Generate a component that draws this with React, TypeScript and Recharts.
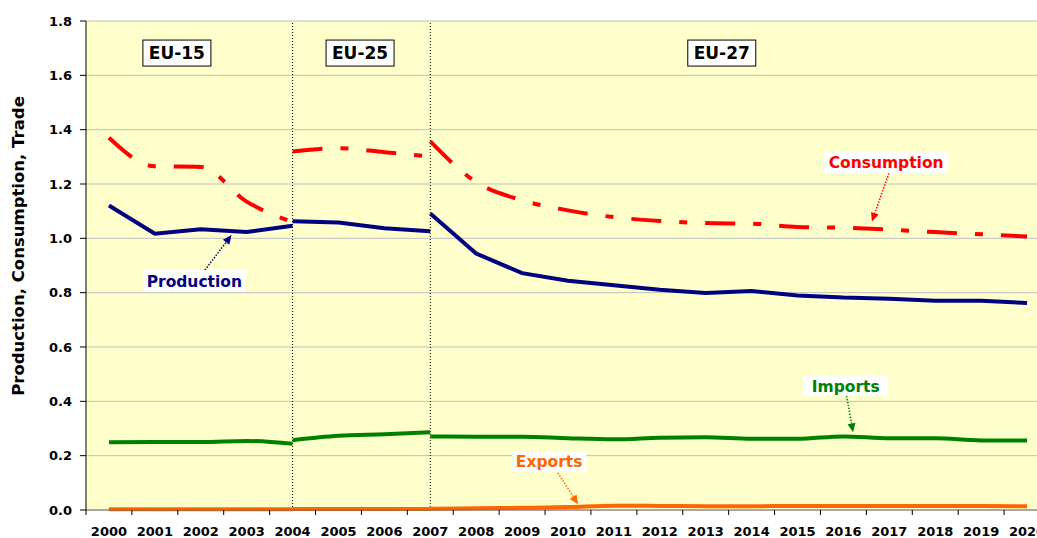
import { LineChart, Line, XAxis, YAxis, CartesianGrid, ReferenceLine, ReferenceDot } from "recharts";

// years covered by each membership period
const yearsEU15 = [2000, 2001, 2002, 2003, 2004];
const yearsEU25 = [2004, 2005, 2006, 2007];
const yearsEU27 = [2007, 2008, 2009, 2010, 2011, 2012, 2013, 2014, 2015, 2016, 2017, 2018, 2019, 2020];

const tickYears = [
  2000, 2001, 2002, 2003, 2004, 2005, 2006, 2007, 2008, 2009, 2010,
  2011, 2012, 2013, 2014, 2015, 2016, 2017, 2018, 2019, 2020,
];
const yTicks = [0, 0.2, 0.4, 0.6, 0.8, 1.0, 1.2, 1.4, 1.6, 1.8];

const productionEU15 = [1.121, 1.017, 1.033, 1.023, 1.046];
const productionEU25 = [1.063, 1.058, 1.037, 1.026];
const productionEU27 = [1.091, 0.944, 0.872, 0.844, 0.827, 0.811, 0.799, 0.806, 0.79, 0.782, 0.778, 0.77, 0.77, 0.762];

const consumptionEU15 = [1.37, 1.265, 1.263, 1.135, 1.06];
const consumptionEU25 = [1.32, 1.332, 1.317, 1.301];
const consumptionEU27 = [1.357, 1.207, 1.14, 1.103, 1.078, 1.064, 1.056, 1.054, 1.042, 1.039, 1.032, 1.023, 1.015, 1.007];

const importsEU15 = [0.249, 0.25, 0.25, 0.254, 0.244];
const importsEU25 = [0.257, 0.273, 0.279, 0.286];
const importsEU27 = [0.271, 0.27, 0.27, 0.264, 0.26, 0.266, 0.268, 0.262, 0.262, 0.271, 0.264, 0.264, 0.256, 0.256];

const exportsEU15 = [0.003, 0.003, 0.003, 0.003, 0.003];
const exportsEU25 = [0.004, 0.004, 0.004, 0.004];
const exportsEU27 = [0.005, 0.006, 0.008, 0.011, 0.016, 0.015, 0.014, 0.014, 0.015, 0.015, 0.015, 0.015, 0.015, 0.014];

const FONT = "DejaVu Sans";
const PLOT_WIDTH = 964;
const HALF_BAND = PLOT_WIDTH / tickYears.length / 2;

function toPoints(years: number[], values: number[]) {
  return years.map((year, i) => ({ year, value: values[i] }));
}

const series = [
  { name: "production", color: "#000080", dash: undefined, type: "linear", parts: [[yearsEU15, productionEU15], [yearsEU25, productionEU25], [yearsEU27, productionEU27]] },
  { name: "consumption", color: "#FF0000", dash: "30 18 8 18", type: "monotone", parts: [[yearsEU15, consumptionEU15], [yearsEU25, consumptionEU25], [yearsEU27, consumptionEU27]] },
  { name: "imports", color: "#008000", dash: undefined, type: "monotone", parts: [[yearsEU15, importsEU15], [yearsEU25, importsEU25], [yearsEU27, importsEU27]] },
  { name: "exports", color: "#FF6600", dash: undefined, type: "monotone", parts: [[yearsEU15, exportsEU15], [yearsEU25, exportsEU25], [yearsEU27, exportsEU27]] },
];

function YearTick(props: any) {
  const { x, y, payload } = props;
  return (
    <g>
      <line x1={x - HALF_BAND} x2={x - HALF_BAND} y1={y} y2={y + 5} stroke="#000" />
      <text x={x} y={y + 26} textAnchor="middle" fontFamily={FONT} fontWeight="bold" fontSize={13} fill="#000">
        {payload.value}
      </text>
    </g>
  );
}

function boxLabel(text: string, w: number, h: number, color: string, size: number, border: boolean) {
  return (p: any) => (
    <g>
      <rect x={p.cx - w / 2} y={p.cy - h / 2} width={w} height={h} fill="#fff" stroke={border ? "#000" : "none"} />
      <text x={p.cx} y={p.cy} dy="0.36em" textAnchor="middle" fontFamily={FONT} fontWeight="bold" fontSize={size} fill={color}>
        {text}
      </text>
    </g>
  );
}

function arrow(color: string) {
  return (p: any) => {
    const { x1, y1, x2, y2 } = p;
    const a = Math.atan2(y2 - y1, x2 - x1);
    const len = 9;
    const half = 4;
    const bx = x2 - len * Math.cos(a);
    const by = y2 - len * Math.sin(a);
    const nx = -Math.sin(a) * half;
    const ny = Math.cos(a) * half;
    return (
      <g>
        <line x1={x1} y1={y1} x2={bx} y2={by} stroke={color} strokeWidth={1.5} strokeDasharray="1.5 1.5" />
        <polygon points={`${x2},${y2} ${bx + nx},${by + ny} ${bx - nx},${by - ny}`} fill={color} />
      </g>
    );
  };
}

const periods = [
  { text: "EU-15", x: 2001.48 },
  { text: "EU-25", x: 2005.47 },
  { text: "EU-27", x: 2013.35 },
];

const callouts = [
  { text: "Consumption", color: "#FF0000", x: 2016.93, y: 1.279, w: 124, h: 21, from: [2016.99, 1.24], to: [2016.62, 1.061] },
  { text: "Production", color: "#000080", x: 2001.86, y: 0.843, w: 103, h: 22, from: [2002.09, 0.883], to: [2002.67, 1.012] },
  { text: "Imports", color: "#008000", x: 2016.05, y: 0.456, w: 85, h: 20, from: [2016.07, 0.42], to: [2016.21, 0.286] },
  { text: "Exports", color: "#FF6600", x: 2009.59, y: 0.177, w: 74, h: 20, from: [2009.78, 0.137], to: [2010.22, 0.021] },
];

export default function App() {
  return (
    <div style={{ position: "absolute", left: 0, top: 0, width: 1037, height: 538, overflow: "hidden", background: "#fff" }}>
      <LineChart width={86 + PLOT_WIDTH} height={538} margin={{ top: 21, right: 0, bottom: 0, left: 0 }}>
        <CartesianGrid vertical={false} fill="#FFFFCC" stroke="#C0C0C0" />
        <XAxis
          type="number"
          dataKey="year"
          domain={[1999.5, 2020.5]}
          ticks={tickYears}
          interval={0}
          allowDataOverflow
          height={28}
          tickLine={false}
          tickSize={0}
          tickMargin={0}
          axisLine={{ stroke: "#707070" }}
          tick={<YearTick />}
        />
        <YAxis
          type="number"
          domain={[0, 1.8]}
          ticks={yTicks}
          interval={0}
          width={86}
          axisLine={{ stroke: "#000" }}
          tickLine={{ stroke: "#000" }}
          tickSize={6}
          tickMargin={8}
          tickFormatter={(v: number) => v.toFixed(1)}
          tick={{ fill: "#000", fontFamily: FONT, fontWeight: "bold", fontSize: 13 }}
          label={() => (
            <text x={18} y={246} transform="rotate(-90 18 246)" textAnchor="middle" dy="0.36em" fontFamily={FONT} fontWeight="bold" fontSize={16.5} fill="#000">
              Production, Consumption, Trade
            </text>
          )}
        />
        <ReferenceLine x={2004} stroke="#000" strokeDasharray="1 2" />
        <ReferenceLine x={2007} stroke="#000" strokeDasharray="1 2" />
        {series.flatMap((s) =>
          s.parts.map(([yrs, vals], i) => (
            <Line
              key={`${s.name}-${i}`}
              data={toPoints(yrs as number[], vals as number[])}
              dataKey="value"
              type={s.type as any}
              stroke={s.color}
              strokeWidth={4}
              strokeDasharray={s.dash}
              dot={false}
              activeDot={false}
              isAnimationActive={false}
            />
          ))
        )}
        {periods.map((p) => (
          <ReferenceDot key={p.text} x={p.x} y={1.682} r={0} ifOverflow="visible" shape={boxLabel(p.text, 68, 26, "#000", 17, true)} />
        ))}
        {callouts.map((c) => (
          <ReferenceLine
            key={`${c.text}-arrow`}
            segment={[{ x: c.from[0], y: c.from[1] }, { x: c.to[0], y: c.to[1] }]}
            ifOverflow="visible"
            shape={arrow(c.color)}
          />
        ))}
        {callouts.map((c) => (
          <ReferenceDot key={c.text} x={c.x} y={c.y} r={0} ifOverflow="visible" shape={boxLabel(c.text, c.w, c.h, c.color, 15.5, false)} />
        ))}
      </LineChart>
    </div>
  );
}
